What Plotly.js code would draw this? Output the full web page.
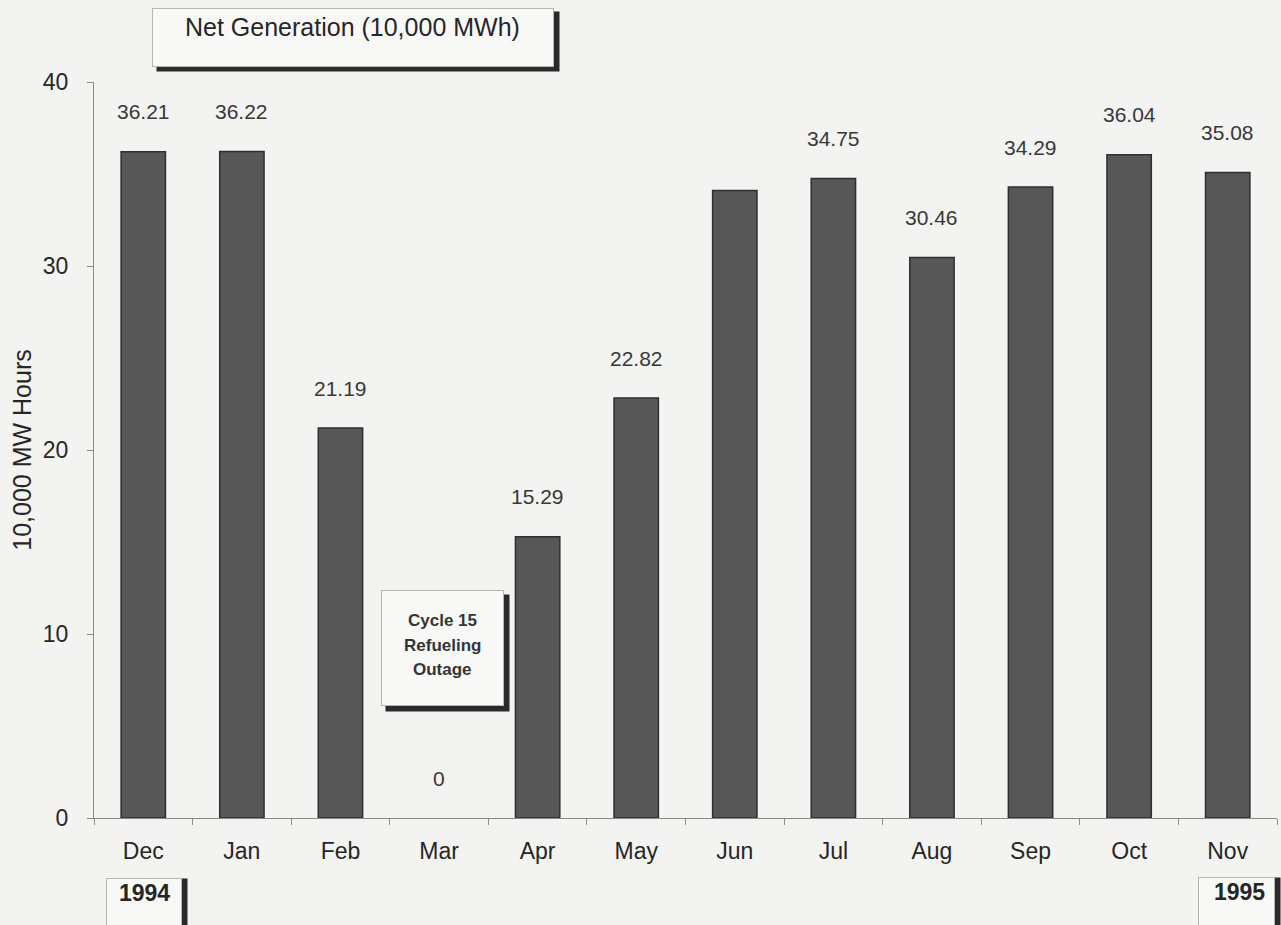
<!DOCTYPE html>
<html>
<head>
<meta charset="utf-8">
<script src="https://cdn.plot.ly/plotly-3.0.1.min.js"></script>
<style>
    html, body { margin: 0; padding: 0; background: #f3f3f1; }
    #chart { width: 1281px; height: 925px; }
</style>
</head>
<body>
<div id="chart"></div>
<script>
// Net generation per month, Dec 1994 - Nov 1995 (10,000 MWh)
const months = ['Dec', 'Jan', 'Feb', 'Mar', 'Apr', 'May', 'Jun', 'Jul', 'Aug', 'Sep', 'Oct', 'Nov'];
const netGeneration = [36.21, 36.22, 21.19, 0, 15.29, 22.82, 34.10, 34.75, 30.46, 34.29, 36.04, 35.08];
// the original leaves Jun without a value label
const unlabeled = ['Jun'];
const yTicks = [0, 10, 20, 30, 40];
const outageLines = ['Cycle 15', 'Refueling', 'Outage'];

const FONT = 'Liberation Sans, Arial, sans-serif';
const INK = '#262626';
const BG = '#f3f3f1';

const trace = {
    x: months,
    y: netGeneration,
    type: 'bar',
    marker: {
        color: '#575757',
        // no outline on an empty month, so nothing shows at zero
        line: { color: '#2f2f2f', width: netGeneration.map(v => v > 0 ? 1.5 : 0) }
    },
    hoverinfo: 'x+y'
};

// value labels sit a fixed distance above each bar top
const valueLabels = months
    .map((m, i) => ({ m, v: netGeneration[i] }))
    .filter(d => !unlabeled.includes(d.m))
    .map(d => ({
        x: d.m, y: d.v, xref: 'x', yref: 'y',
        text: d.v === 0 ? '0' : d.v.toFixed(2),
        showarrow: false, yanchor: 'middle', yshift: 40,
        font: { family: FONT, size: 21, color: '#383838' }
    }));

// empty box with a dark drop shadow (shadow first, offset down/right)
function box(o) {
    const base = {
        xref: o.xref, yref: o.yref, x: o.x, y: o.y, xshift: o.xs || 0,
        xanchor: 'center', yanchor: o.yanchor || 'middle',
        width: o.w, height: o.h, showarrow: false, text: ''
    };
    return [
        { ...base, bgcolor: '#2a2a2a', xshift: (o.xs || 0) + 5, yshift: -(o.sy || 0) },
        { ...base, bgcolor: '#f8f8f6', bordercolor: '#b5b5b5', borderwidth: 1, borderpad: 0 }
    ];
}

function label(o) {
    return {
        xref: o.xref, yref: o.yref, x: o.x, y: o.y,
        xanchor: 'center', yanchor: 'middle',
        xshift: o.xs || 0, yshift: o.ys || 0,
        text: o.text, showarrow: false,
        font: { family: FONT, size: o.size, color: o.color || INK }
    };
}

const notes = [
    // chart title box
    ...box({ xref: 'paper', yref: 'paper', x: 0.2189, y: 1.0605, w: 400, h: 57, sy: 4 }),
    label({ xref: 'paper', yref: 'paper', x: 0.2181, y: 1.0747, text: 'Net Generation (10,000 MWh)', size: 25 }),
    // refueling outage box over March
    ...box({ xref: 'x', yref: 'y', x: 'Mar', y: 9.24, xs: 3.5, w: 121, h: 114, sy: 5 }),
    ...outageLines.map((t, i) => label({
        xref: 'x', yref: 'y', x: 'Mar', y: 9.24, xs: 3.5, ys: 27 - 24.5 * i,
        text: '<b>' + t + '</b>', size: 17, color: '#353535'
    })),
    // year markers under the first and last month
    ...box({ xref: 'paper', yref: 'paper', x: 0.0423, y: -0.0815, yanchor: 'top', w: 74, h: 80 }),
    label({ xref: 'paper', yref: 'paper', x: 0.0427, y: -0.1019, text: '<b>1994</b>', size: 23 }),
    ...box({ xref: 'paper', yref: 'paper', x: 0.9658, y: -0.0802, yanchor: 'top', w: 75, h: 80 }),
    label({ xref: 'paper', yref: 'paper', x: 0.9683, y: -0.1005, text: '<b>1995</b>', size: 23 })
];

const layout = {
    width: 1281, height: 925,
    paper_bgcolor: BG, plot_bgcolor: BG,
    margin: { l: 94, r: 4, t: 82, b: 107 },
    font: { family: FONT, color: INK, size: 18 },
    showlegend: false,
    bargap: 0.55,
    xaxis: {
        type: 'category',
        showline: true, linecolor: '#8a8a8a', linewidth: 1,
        ticks: 'outside', tickson: 'boundaries', ticklen: 6, tickcolor: '#8a8a8a',
        ticklabelstandoff: 12,
        tickfont: { family: FONT, size: 23, color: INK },
        showgrid: false, zeroline: false, fixedrange: true
    },
    yaxis: {
        range: [0, 40],
        tickvals: yTicks,
        showline: true, linecolor: '#8a8a8a', linewidth: 1,
        ticks: 'outside', ticklen: 6, tickcolor: '#8a8a8a',
        ticklabelstandoff: 14,
        tickfont: { family: FONT, size: 23, color: INK },
        title: { text: '10,000 MW Hours', standoff: 4,
                 font: { family: FONT, size: 25, color: INK } },
        showgrid: false, zeroline: false, fixedrange: true
    },
    annotations: [...valueLabels, ...notes]
};

Plotly.newPlot('chart', [trace], layout, { displayModeBar: false, staticPlot: true });
</script>
</body>
</html>
